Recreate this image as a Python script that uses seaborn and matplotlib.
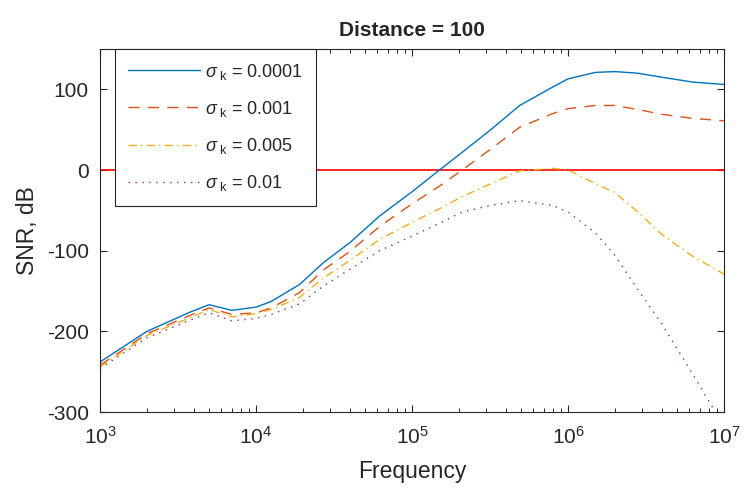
import numpy as np
import pandas as pd
import seaborn as sns
import matplotlib
matplotlib.use("Agg")
import matplotlib.pyplot as plt
from matplotlib.ticker import NullFormatter

# values
freq = [1e3, 2e3, 3.8e3, 5e3, 7e3, 1e4, 1.25e4, 1.9e4, 2.7e4, 4e4, 6.2e4, 1e5,
        1.5e5, 2.1e5, 3.2e5, 4.9e5, 8e5, 1e6, 1.5e6, 2e6, 2.8e6, 4e6, 6.3e6, 1e7]
snr_00001 = [-238, -200, -176, -167, -174, -170, -163, -142, -115, -90, -57,
             -27, 0, 22, 50, 80, 103, 113, 121, 122, 120, 115, 109, 106]
snr_0001 = [-242, -203, -180, -171, -179, -177, -171, -152, -124, -101, -70,
            -42, -20, 0, 26, 53, 70, 76, 80, 80, 75, 69, 64, 61]
snr_0005 = [-244, -205, -183, -173, -182, -178, -173, -158, -134, -112, -86,
            -65, -48, -33, -17, -1, 2, 0, -17, -28, -52, -80, -107, -129]
snr_001 = [-246, -208, -186, -177, -187, -184, -179, -166, -144, -123, -100,
           -82, -66, -52, -44, -38, -44, -52, -78, -106, -148, -191, -253, -318]

sigmas = ["0.0001", "0.001", "0.005", "0.01"]
series = [snr_00001, snr_0001, snr_0005, snr_001]
colors = ["#0072BD", "#D95319", "#EDB120", "#7E2F8E"]
styles = ["-", (0, (8, 6)), (0, (6, 3, 1, 3)), (0, (1, 4))]

x_major = [1e3, 1e4, 1e5, 1e6, 1e7]
x_minor = [m * d for d in x_major[:-1] for m in range(2, 10)]

sns.set_style("ticks")
plt.rcParams["font.family"] = ["Liberation Sans", "DejaVu Sans"]
plt.rcParams["mathtext.fontset"] = "custom"
plt.rcParams["mathtext.rm"] = "Liberation Sans"
plt.rcParams["mathtext.it"] = "Liberation Sans:italic"
plt.rcParams["axes.unicode_minus"] = False

fig = plt.figure(figsize=(7.44, 4.9), dpi=100)
ax = fig.add_axes([100 / 744, 78 / 490, 624 / 744, 363 / 490])

ax.axhline(0, color="red", lw=1.2, zorder=1)

for sig, vals, c, ls in zip(sigmas, series, colors, styles):
    df = pd.DataFrame({"freq": freq, "snr": vals})
    sns.lineplot(data=df, x="freq", y="snr", color=c, linestyle=ls, lw=1.0,
                 label=r"$\sigma_{\ \mathrm{k}}$ = " + sig, ax=ax, zorder=2)

ax.set_xscale("log")
ax.set_xticks(x_major)
ax.set_xticks(x_minor, minor=True)
ax.xaxis.set_minor_formatter(NullFormatter())
ax.set_xlim(1e3, 1e7)
ax.set_ylim(-300, 150)
ax.set_yticks([-300, -200, -100, 0, 100])

ax.tick_params(which="both", direction="in", top=True, right=True,
               labelsize=15, colors="#262626", labelcolor="#262626")
ax.tick_params(which="major", length=5, width=0.8)
ax.tick_params(which="minor", length=3, width=0.7)
ax.tick_params(axis="x", which="major", pad=10)
ax.tick_params(axis="y", which="major", pad=8)
for sp in ax.spines.values():
    sp.set_color("#262626")
    sp.set_linewidth(0.8)

ax.set_xlabel("Frequency", fontsize=16.5, color="#262626", labelpad=9)
ax.set_ylabel("SNR, dB", fontsize=16.5, color="#262626", labelpad=6)
ax.set_title("Distance = 100", fontsize=15, fontweight="bold", pad=9)

leg = ax.legend(loc="upper left", bbox_to_anchor=(15 / 624, 1.0),
                borderaxespad=0, fontsize=13, handlelength=4.0,
                labelspacing=0.95, fancybox=False, framealpha=1,
                edgecolor="#262626", borderpad=0.7, handletextpad=0.3)
leg.get_frame().set_linewidth(0.8)

fig.savefig("out.png", dpi=100)
